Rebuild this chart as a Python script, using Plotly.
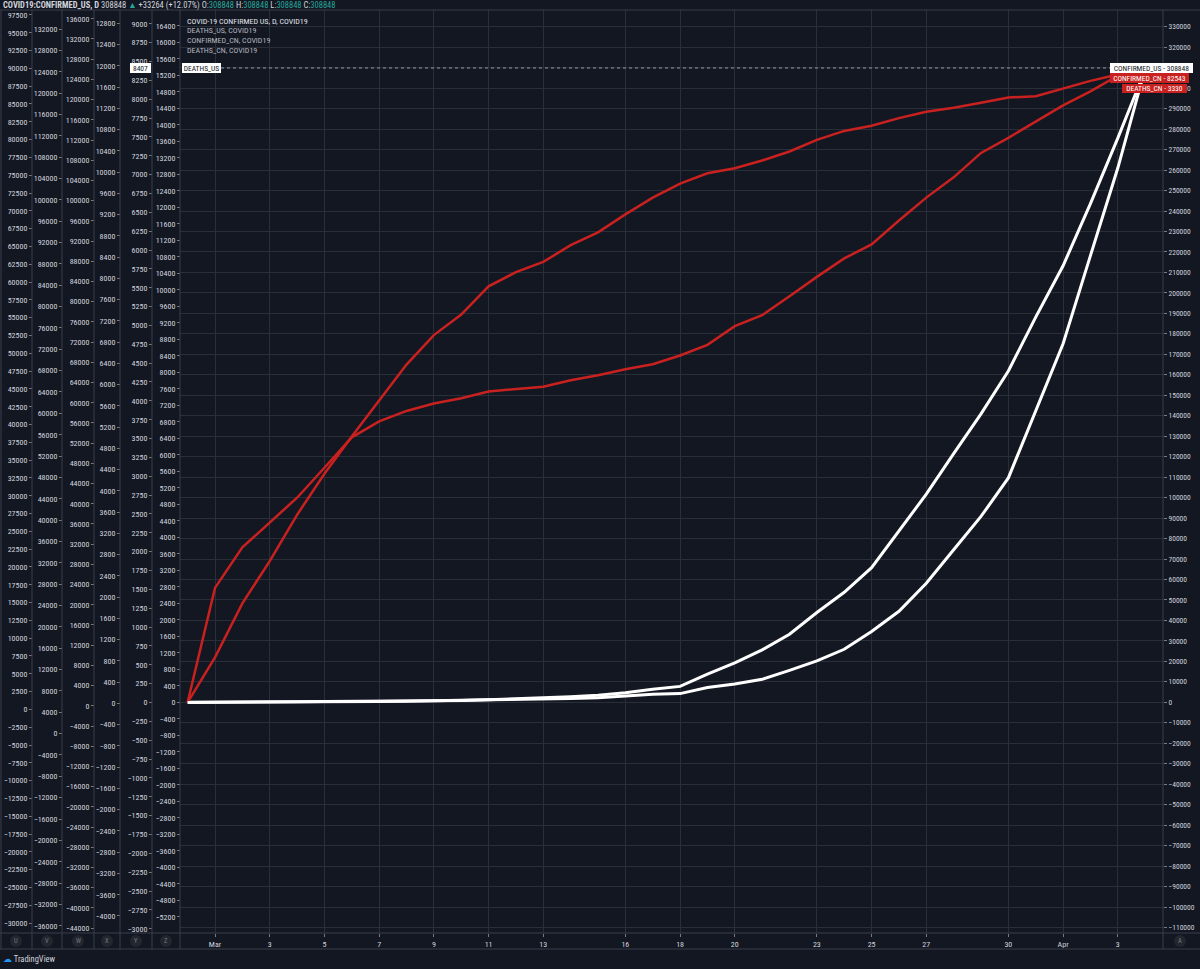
import plotly.graph_objects as go
import pandas as pd

# ---------------- data ----------------
dates = ["2020-02-29", "2020-03-01", "2020-03-02", "2020-03-03", "2020-03-04", "2020-03-05",
         "2020-03-06", "2020-03-07", "2020-03-08", "2020-03-09", "2020-03-10", "2020-03-11",
         "2020-03-12", "2020-03-13", "2020-03-14", "2020-03-15", "2020-03-16", "2020-03-17",
         "2020-03-18", "2020-03-19", "2020-03-20", "2020-03-21", "2020-03-22", "2020-03-23",
         "2020-03-24", "2020-03-25", "2020-03-26", "2020-03-27", "2020-03-28", "2020-03-29",
         "2020-03-30", "2020-03-31", "2020-04-01", "2020-04-02", "2020-04-03", "2020-04-04"]

confirmed_us = [68, 74, 98, 118, 149, 217, 262, 402, 518, 583, 959, 1281, 1663, 2179, 2726, 3499,
                4632, 6421, 7783, 13747, 19273, 25600, 33276, 43847, 53740, 65778, 83836, 101657,
                121465, 140909, 161831, 188172, 213242, 243622, 275584, 308848]

deaths_us = [1, 1, 6, 9, 11, 12, 14, 17, 21, 22, 28, 36, 40, 47, 54, 63, 85, 108, 118, 200, 244,
             307, 427, 552, 706, 942, 1209, 1581, 2026, 2467, 2978, 3873, 4757, 5926, 7087, 8407]

confirmed_cn = [79356, 79932, 80136, 80261, 80386, 80537, 80690, 80770, 80823, 80860, 80887, 80921,
                80932, 80945, 80977, 81003, 81033, 81058, 81102, 81156, 81250, 81305, 81400, 81498,
                81591, 81661, 81782, 81897, 81999, 82122, 82198, 82279, 82361, 82432, 82511, 82543]

deaths_cn = [2837, 2872, 2914, 2947, 2983, 3015, 3044, 3072, 3100, 3123, 3139, 3161, 3172, 3180,
             3193, 3203, 3217, 3230, 3241, 3249, 3253, 3259, 3266, 3275, 3282, 3286, 3292, 3297,
             3300, 3304, 3308, 3309, 3315, 3321, 3326, 3330]

x_tick_dates = ["2020-03-01", "2020-03-03", "2020-03-05", "2020-03-07", "2020-03-09", "2020-03-11",
                "2020-03-13", "2020-03-16", "2020-03-18", "2020-03-20", "2020-03-23", "2020-03-25",
                "2020-03-27", "2020-03-30", "2020-04-01", "2020-04-03"]
x_tick_labels = ["Mar", "3", "5", "7", "9", "11", "13", "16", "18", "20", "23", "25", "27", "30",
                 "Apr", "3"]

legend_lines = ["COVID-19 CONFIRMED US, D, COVID19", "DEATHS_US, COVID19",
                "CONFIRMED_CN, COVID19", "DEATHS_CN, COVID19"]
left_scale_letters = ["U", "V", "W", "X", "Y", "Z"]

# ---------------- geometry helpers ----------------
W, H = 1200, 969
PLOT_L, PLOT_R, PLOT_T, PLOT_B = 180, 1163, 10, 933


def px(x):
    return x / W


def py(y):
    return 1 - y / H


def rng(v0, y0, per_px):
    return [v0 - (PLOT_B - y0) * per_px, v0 + (y0 - PLOT_T) * per_px]


BG = "#131722"
GRID = "#2a2e39"
SEP = "#3a3e4a"
TXT = "#d1d4dc"
RED = "#c9211f"
FONT = "Liberation Sans Narrow, Roboto Condensed, Roboto, Arial, sans-serif"
tickfont = dict(family=FONT, size=8, color=TXT)

d0 = pd.Timestamp("2020-03-01")
per_day = (1117.8 - 215.0) / 33.0
x_lo = d0 - pd.Timedelta(days=(215.0 - PLOT_L) / per_day)
x_hi = d0 + pd.Timedelta(days=(PLOT_R - 215.0) / per_day)

fig = go.Figure()

# empty traces so that every scale (U..Z) gets drawn
for ax in ["y4", "y5", "y6", "y7", "y9"]:
    fig.add_trace(go.Scatter(x=[], y=[], yaxis=ax, mode="lines", hoverinfo="skip",
                             showlegend=False))

# red lines (hidden scales)
fig.add_trace(go.Scatter(x=dates, y=confirmed_cn, yaxis="y2", mode="lines",
                         line=dict(color=RED, width=2.5), name="CONFIRMED_CN", hoverinfo="skip"))
fig.add_trace(go.Scatter(x=dates, y=deaths_cn, yaxis="y3", mode="lines",
                         line=dict(color=RED, width=2.5), name="DEATHS_CN", hoverinfo="skip"))
# white lines
fig.add_trace(go.Scatter(x=dates, y=confirmed_us, yaxis="y", mode="lines",
                         line=dict(color="#ffffff", width=3), name="CONFIRMED_US", hoverinfo="skip"))
fig.add_trace(go.Scatter(x=dates, y=deaths_us, yaxis="y8", mode="lines",
                         line=dict(color="#ffffff", width=3), name="DEATHS_US", hoverinfo="skip"))


def left_axis(pos, r, dtick):
    return dict(overlaying="y", anchor="free", position=pos, side="left", range=r,
                dtick=dtick, tick0=0, showgrid=False, zeroline=False, showline=False,
                ticks="outside", ticklen=3, tickcolor="#787b86", tickfont=tickfont,
                tickformat="d", automargin=False, fixedrange=True)


hidden = dict(overlaying="y", anchor="x", visible=False, showgrid=False, zeroline=False,
              automargin=False, fixedrange=True)

fig.update_layout(
    width=W, height=H,
    margin=dict(l=0, r=0, t=0, b=0),
    paper_bgcolor=BG, plot_bgcolor=BG,
    showlegend=False,
    xaxis=dict(domain=[px(PLOT_L), px(PLOT_R)], range=[x_lo, x_hi], type="date",
               tickvals=x_tick_dates, ticktext=x_tick_labels, showgrid=True, gridcolor=GRID,
               gridwidth=1, zeroline=False, showline=False, ticks="outside", ticklen=3,
               tickcolor="#787b86", tickfont=tickfont, automargin=False, fixedrange=True),
    # A (right)
    yaxis=dict(domain=[py(PLOT_B), py(PLOT_T)], anchor="x", side="right",
               range=rng(0, 702.3, 488.5), dtick=10000, tick0=0, showgrid=True,
               gridcolor=GRID, gridwidth=1, zeroline=False, showline=False, ticks="outside",
               ticklen=3, tickcolor="#787b86", tickfont=dict(family=FONT, size=7.5, color=TXT),
               tickformat="d", automargin=False, fixedrange=True),
    yaxis2=dict(hidden, range=rng(79356, 702.3, 3187 / 633)),
    yaxis3=dict(hidden, range=rng(2837, 702.3, 493 / 633)),
    yaxis4=left_axis(px(32), rng(0, 709.4, 140.4), 2500),    # U
    yaxis5=left_axis(px(62), rng(0, 733.6, 187.35), 4000),   # V
    yaxis6=left_axis(px(94), rng(0, 705.8, 197.95), 4000),   # W
    yaxis7=left_axis(px(120), rng(0, 703.4, 18.82), 400),    # X
    yaxis8=left_axis(px(152), rng(0, 702.5, 13.26), 250),    # Y
    yaxis9=left_axis(px(PLOT_L), rng(0, 702.3, 24.24), 400),  # Z
)

shapes = []
for xs in [1, 32, 62, 94, 120, 152, 180, 1163]:
    shapes.append(dict(type="line", xref="paper", yref="paper", x0=px(xs), x1=px(xs),
                       y0=py(10), y1=py(949), line=dict(color=SEP, width=1)))
for ys in [10, 933, 949]:
    shapes.append(dict(type="line", xref="paper", yref="paper", x0=0, x1=1,
                       y0=py(ys), y1=py(ys), line=dict(color=SEP, width=1)))
shapes.append(dict(type="line", xref="paper", yref="paper", x0=px(221), x1=px(1110),
                   y0=py(68), y1=py(68), line=dict(color="#9598a1", width=1, dash="dot")))
letter_x = [16, 47, 78, 107, 136, 166]
for lx in letter_x + [1180]:
    shapes.append(dict(type="circle", xref="paper", yref="paper", x0=px(lx - 6), x1=px(lx + 6),
                       y0=py(947), y1=py(935), fillcolor="#22262f", line=dict(width=0)))
fig.update_layout(shapes=shapes)

ann = []
ann.append(dict(xref="paper", yref="paper", x=px(1), y=py(5), xanchor="left", yanchor="middle",
                showarrow=False, font=dict(family=FONT, size=8.5, color="#d1d4dc"),
                text="<b>COVID19:CONFIRMED_US, D</b> 308848 <span style='color:#26a69a'>▲</span> "
                     "+33264 (+12.07%) O:<span style='color:#26a69a'>308848</span> "
                     "H:<span style='color:#26a69a'>308848</span> "
                     "L:<span style='color:#26a69a'>308848</span> "
                     "C:<span style='color:#26a69a'>308848</span>"))
for i, (t, yy) in enumerate(zip(legend_lines, [22, 31, 40.5, 50])):
    ann.append(dict(xref="paper", yref="paper", x=px(185), y=py(yy), xanchor="left",
                    yanchor="middle", showarrow=False, text=t,
                    font=dict(family=FONT, size=8, color="#e0e3eb" if i == 0 else "#b2b5be")))


def tag(text, x0, x1, y0, y1, bg, fg):
    return dict(xref="paper", yref="paper", x=px((x0 + x1) / 2), y=py((y0 + y1) / 2),
                xanchor="center", yanchor="middle", showarrow=False, text=text,
                width=x1 - x0, height=y1 - y0, bgcolor=bg, borderpad=0, borderwidth=0,
                font=dict(family=FONT, size=7.5, color=fg), align="center")


ann.append(tag("DEATHS_US", 182, 221, 63, 73, "#ffffff", BG))
ann.append(tag("8407", 130, 151, 63, 73, "#ffffff", BG))
ann.append(tag("CONFIRMED_US - 308848", 1110, 1193, 63, 73, "#ffffff", BG))
ann.append(tag("CONFIRMED_CN - 82543", 1110, 1189, 73, 83, RED, "#ffffff"))
ann.append(tag("DEATHS_CN - 3330", 1122, 1187, 84, 93, RED, "#ffffff"))
for lx, letter in zip(letter_x + [1180], left_scale_letters + ["A"]):
    ann.append(dict(xref="paper", yref="paper", x=px(lx), y=py(941), xanchor="center",
                    yanchor="middle", showarrow=False, text=letter,
                    font=dict(family=FONT, size=6.5, color="#787b86")))
ann.append(dict(xref="paper", yref="paper", x=px(1), y=py(959), xanchor="left", yanchor="middle",
                showarrow=False, text="<span style='color:#2196f3'>☁</span> TradingView",
                font=dict(family=FONT, size=8.5, color="#d1d4dc")))
fig.update_layout(annotations=ann)

fig.write_html("out.html", config=dict(displayModeBar=False, staticPlot=True),
               post_script="document.body.style.margin='0';document.body.style.background='#131722';")
